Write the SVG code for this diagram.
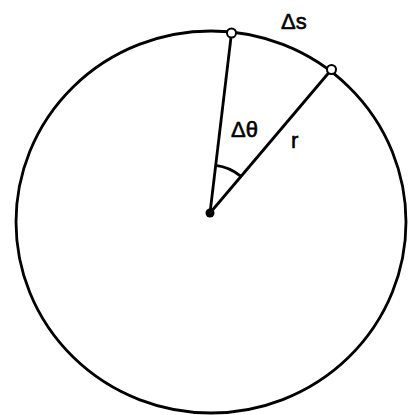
<svg xmlns="http://www.w3.org/2000/svg" width="409" height="415" viewBox="0 0 409 415">
<style>
.s{fill:none;stroke:#000;stroke-width:2.8}
.p{fill:#fff;stroke:#000;stroke-width:2}
.t{font-family:"Liberation Sans",Arial,sans-serif;font-size:22px;fill:#000;stroke:#000;stroke-width:0.6}
</style>
<rect width="409" height="415" fill="#fff"/>
<g id="circle"><ellipse class="s" cx="211" cy="222" rx="195" ry="191"/></g>
<g id="connectors">
<line class="s" x1="210" y1="213" x2="231.5" y2="33"/>
<line class="s" x1="210" y1="213" x2="331.5" y2="69.5"/>
<path class="s" d="M 215.7 165.3 A 48 48 0 0 1 241 176.4"/>
</g>
<g id="center"><circle cx="210" cy="213" r="4.5" fill="#000"/></g>
<g id="p1"><circle class="p" cx="231.5" cy="33" r="4.5"/></g>
<g id="p2"><circle class="p" cx="331.5" cy="69.5" r="4.5"/></g>
<g id="labels">
<text class="t" x="281" y="29">Δs</text>
<text class="t" x="231" y="137">Δθ</text>
<text class="t" x="291" y="148">r</text>
</g>
</svg>
